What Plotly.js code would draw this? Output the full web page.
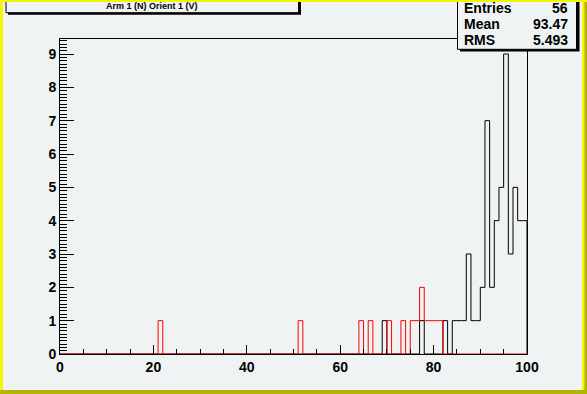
<!DOCTYPE html>
<html><head><meta charset="utf-8">
<script src="https://cdn.plot.ly/plotly-3.0.1.min.js"></script>
<style>html,body{margin:0;padding:0;background:#eff3f4;overflow:hidden}#chart{width:587px;height:394px}</style>
</head><body><div id="chart"></div>
<script>
// ---- data (bin low edge -> content), 100 bins on [0,100]
const blackBins   = [69,77,82,84,85,86,87,88,89,90,91,92,93,94,95,96,97,98,99];
const blackCounts = [ 1, 1, 1, 1, 1, 1, 3, 1, 1, 2, 7, 2, 4, 5, 9, 3, 5, 4, 4];
const redBins     = [21,51,64,66,70,73,75,76,77,78,79,80,81];
const redCounts   = [ 1, 1, 1, 1, 1, 1, 1, 1, 2, 1, 1, 1, 1];
const nBins = 100, xMin = 0, xMax = 100;
const xTickVals = [0,20,40,60,80,100];
const yTickVals = [0,1,2,3,4,5,6,7,8,9];
const histTitle = 'Arm 1 (N) Orient 1 (V)';
const statLabels = ['Entries','Mean','RMS'];
const statValues = ['56','93.47','5.493'];

const BG = '#eff3f4';
const W = 587, H = 394, L = 60, R = 60, T = 39, B = 40;
const px = x => (x - L) / (W - L - R);
const py = y => (H - B - y) / (H - T - B);

function stepTrace(bins, counts, color){
  const c = new Array(nBins).fill(0);
  bins.forEach((b,i)=>{ c[b - xMin] = counts[i]; });
  const w = (xMax - xMin) / nBins;
  const xs = [xMin], ys = [0];
  for (let i = 0; i < nBins; i++){ xs.push(xMin + i*w); ys.push(c[i]); }
  xs.push(xMax); ys.push(c[nBins-1]);
  xs.push(xMax); ys.push(0);
  return {type:'scatter', mode:'lines', x:xs, y:ys,
          line:{shape:'hv', color:color, width:1}, cliponaxis:false,
          hoverinfo:'skip', showlegend:false};
}

const tickFont = {family:'Liberation Sans, Arial, sans-serif', size:14, color:'#000', weight:'bold'};

const rect = (x0,y0,x1,y1,fill,lineW) => ({type:'rect', xref:'paper', yref:'paper',
  x0:px(x0), x1:px(x1), y0:py(y1), y1:py(y0), fillcolor:fill,
  line:{color:'#000', width:lineW}, layer:'above'});

const shapes = [
  // title pave (shadow + box)
  rect(8, -6, 301, 14.7, '#000', 0),
  rect(6, -6, 298.5, 12.7, BG, 1),
  // stats pave (shadow + box)
  rect(460, -6, 579.5, 51.5, '#000', 0),
  rect(457.5, -6, 576.5, 49.3, BG, 1),
  // canvas border
  rect(0, 0, 587, 2, '#f5f500', 0),
  rect(0, 0, 3, 394, '#f5f500', 0),
  rect(582, 0, 587, 394, '#f5f500', 0),
  rect(0, 390, 587, 394, '#b4b400', 0),
  rect(584.5, 2, 587, 394, '#b4b400', 0)
];

const annotations = [
  {xref:'paper', yref:'paper', x:px(152), y:py(6.5), text:histTitle, showarrow:false,
   xanchor:'center', yanchor:'middle', font:{family:'Liberation Sans, Arial, sans-serif', size:9, color:'#000', weight:'bold'}}
];
const rowY = [8.5, 24.5, 40.5];
statLabels.forEach((s,i)=>{
  annotations.push({xref:'paper', yref:'paper', x:px(462), y:py(rowY[i]), text:s, showarrow:false,
    xanchor:'left', yanchor:'middle', font:tickFont});
  annotations.push({xref:'paper', yref:'paper', x:px(570), y:py(rowY[i]), text:statValues[i], showarrow:false,
    xanchor:'right', yanchor:'middle', font:tickFont});
});

const layout = {
  width:W, height:H, margin:{l:L, r:R, t:T, b:B, pad:0},
  paper_bgcolor:BG, plot_bgcolor:BG, showlegend:false,
  xaxis:{range:[xMin,xMax], tickvals:xTickVals, ticktext:xTickVals.map(String),
         ticks:'inside', ticklen:9, tickwidth:1, tickcolor:'#000',
         minor:{dtick:5, tick0:0, ticks:'inside', ticklen:5, tickwidth:1, tickcolor:'#000', showgrid:false},
         showline:true, linecolor:'#000', linewidth:1, mirror:true,
         showgrid:false, zeroline:false, tickfont:tickFont, fixedrange:true},
  yaxis:{range:[0,9.45], tickvals:yTickVals, ticktext:yTickVals.map(String),
         ticks:'inside', ticklen:14, tickwidth:1, tickcolor:'#000',
         minor:{dtick:0.1, tick0:0, ticks:'inside', ticklen:7, tickwidth:1, tickcolor:'#000', showgrid:false},
         showline:true, linecolor:'#000', linewidth:1, mirror:true,
         showgrid:false, zeroline:false, tickfont:tickFont, fixedrange:true},
  shapes:shapes, annotations:annotations
};

Plotly.newPlot('chart', [stepTrace(blackBins, blackCounts, '#000'), stepTrace(redBins, redCounts, '#ff0000')],
  layout, {staticPlot:true, displayModeBar:false});
</script>
</body></html>
